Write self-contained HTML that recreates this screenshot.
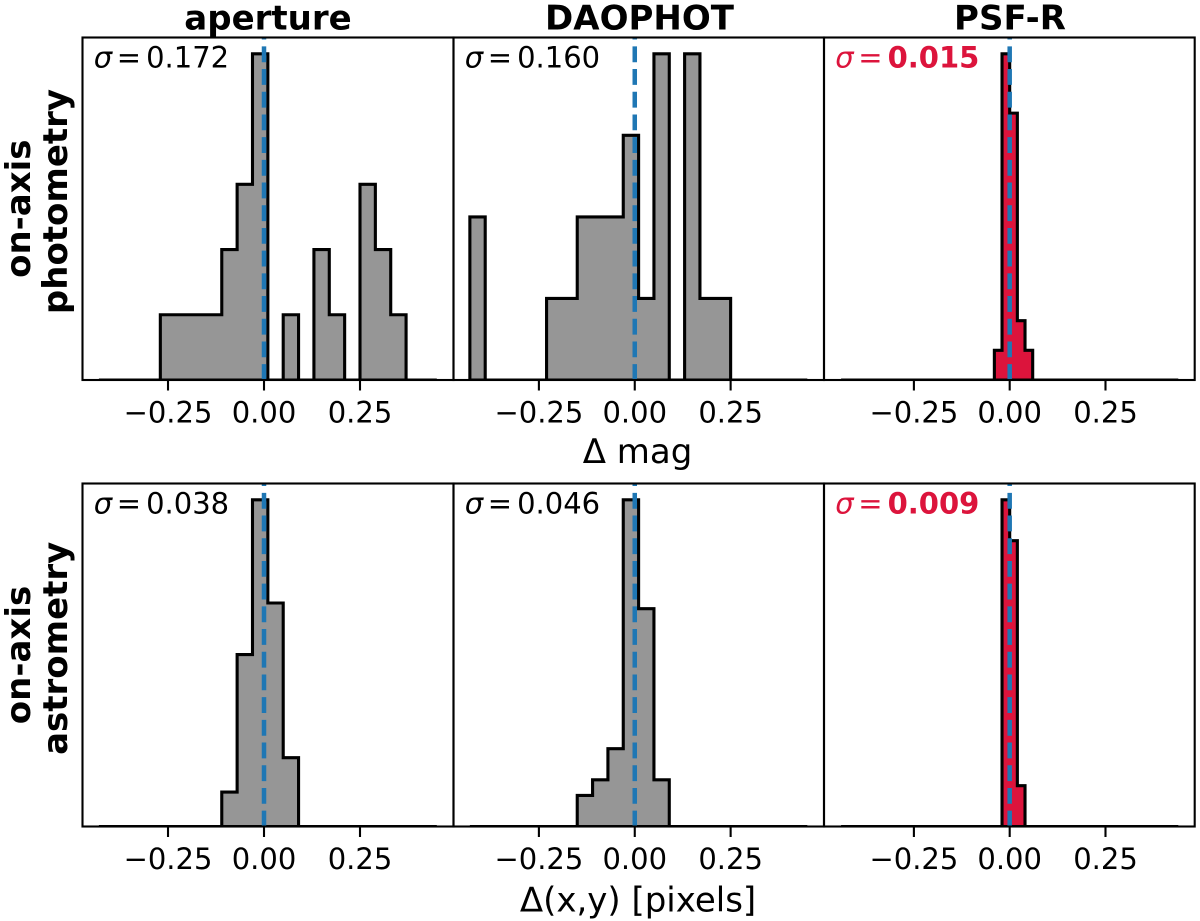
<!DOCTYPE html>
<html lang="en">
<head>
<meta charset="utf-8">
<title>On-axis photometry and astrometry residual histograms</title>
<style>
html,body{margin:0;padding:0;background:#fff;}
body{width:1200px;height:921px;overflow:hidden;}
svg{display:block;font-family:"DejaVu Sans","Liberation Sans",sans-serif;}
</style>
</head>
<body>
<svg id="figure" xmlns="http://www.w3.org/2000/svg" width="1200" height="921" viewBox="0 0 1200 921">
  <rect x="0" y="0" width="1200" height="921" fill="#fff"/>
  <g id="panels"></g>
  <text x="268" y="29.3" font-size="34" font-weight="700" text-anchor="middle">aperture</text>
  <text x="639.5" y="29.3" font-size="34" font-weight="700" text-anchor="middle">DAOPHOT</text>
  <text x="1010" y="29.3" font-size="34" font-weight="700" text-anchor="middle">PSF-R</text>
  <text x="637.5" y="463" font-size="34" text-anchor="middle">Δ mag</text>
  <text x="638" y="911.5" font-size="34" text-anchor="middle">Δ(x,y) [pixels]</text>
  <text transform="translate(30,208.7) rotate(-90)" font-size="34" font-weight="700" text-anchor="middle">on-axis</text>
  <text transform="translate(67,201.5) rotate(-90)" font-size="34" font-weight="700" text-anchor="middle">photometry</text>
  <text transform="translate(30,655) rotate(-90)" font-size="34" font-weight="700" text-anchor="middle">on-axis</text>
  <text transform="translate(67,648.3) rotate(-90)" font-size="34" font-weight="700" text-anchor="middle">astrometry</text>
</svg>
<script>
// Bin counts (one array per panel)
const photApertureCounts = [0,0,0,0,1,1,1,1,2,3,5,0,1,0,2,1,0,3,2,1,0,0];
const photDaophotCounts  = [2,0,0,0,0,1,1,2,2,2,3,1,4,0,4,1,1,0,0,0,0,0];
const photPsfrCounts     = [0,0,0,0,0,0,0,0,0,0,0,0,0,0,0,0,0,0,0,0,1,11,9,2,1,0,0,0,0,0,0,0,0,0,0,0,0,0,0,0,0,0,0,0];
const astrApertureCounts = [0,0,0,0,0,0,0,0,2,10,19,13,4,0,0,0,0,0,0,0,0,0];
const astrDaophotCounts  = [0,0,0,0,0,0,0,2,3,5,21,14,3,0,0,0,0,0,0,0,0,0];
const astrPsfrCounts     = [0,0,0,0,0,0,0,0,0,0,0,0,0,0,0,0,0,0,0,0,0,24,21,3,0,0,0,0,0,0,0,0,0,0,0,0,0,0,0,0,0,0,0,0];

// Bin definitions per column (data units)
const binStarts = [-0.43, -0.43, -0.44];
const binWidths = [0.04, 0.04, 0.02];

// Axis limits per column (data units)
const xLimitsLow  = [-0.4727, -0.4727, -0.4846];
const xLimitsHigh = [0.4935, 0.4935, 0.4828];

// Ticks
const tickValues = [-0.25, 0, 0.25];
const tickLabels = ["\u22120.25", "0.00", "0.25"];

// Printed scatter values
const photSigmas = ["0.172", "0.160", "0.015"];
const astrSigmas = ["0.038", "0.046", "0.009"];

const columnNames = ["aperture", "daophot", "psf-r"];
const rowNames = ["photometry", "astrometry"];

const SVGNS = "http://www.w3.org/2000/svg";
const root = document.getElementById("panels");

function make(tag, attrs, parent) {
  const node = document.createElementNS(SVGNS, tag);
  for (const k in attrs) node.setAttribute(k, attrs[k]);
  parent.appendChild(node);
  return node;
}

const columnEdges = [[82.5, 453.5], [453.5, 824], [824, 1194.7]];
const rowEdges = [[37.5, 380], [483.5, 826.5]];
const rowCounts = [
  [photApertureCounts, photDaophotCounts, photPsfrCounts],
  [astrApertureCounts, astrDaophotCounts, astrPsfrCounts]
];
const rowSigmas = [photSigmas, astrSigmas];

function drawPanel(r, c) {
  const [left, right] = columnEdges[c];
  const [top, bottom] = rowEdges[r];
  const counts = rowCounts[r][c];
  const isRed = c === 2;
  const ink = isRed ? "#dc143c" : "#000";
  const xScale = v => left + (v - xLimitsLow[c]) / (xLimitsHigh[c] - xLimitsLow[c]) * (right - left);
  const yMax = Math.max.apply(null, counts) * 1.05;
  const yScale = v => bottom - v / yMax * (bottom - top);
  const id = rowNames[r] + "-" + columnNames[c];

  const g = make("g", {}, root);
  
  

  const clip = make("clipPath", { id: "clip-" + id }, g);
  make("rect", { x: left, y: top, width: right - left, height: bottom - top }, clip);

  let d = "M" + xScale(binStarts[c]).toFixed(2) + " " + yScale(0).toFixed(2);
  counts.forEach((n, i) => {
    const x0 = xScale(binStarts[c] + i * binWidths[c]);
    const x1 = xScale(binStarts[c] + (i + 1) * binWidths[c]);
    d += "L" + x0.toFixed(2) + " " + yScale(n).toFixed(2) + "L" + x1.toFixed(2) + " " + yScale(n).toFixed(2);
  });
  d += "L" + xScale(binStarts[c] + counts.length * binWidths[c]).toFixed(2) + " " + yScale(0).toFixed(2) + "Z";
  const hist = make("path", {
    d: d,
    fill: isRed ? "#dc143c" : "#969696",
    stroke: "#000",
    "stroke-width": 3.1,
    "stroke-linejoin": "miter",
    "clip-path": "url(#clip-" + id + ")"
  }, g);
  
  

  const zero = make("line", {
    x1: xScale(0), x2: xScale(0), y1: bottom, y2: top,
    stroke: "#1f77b4", "stroke-width": 4.5, "stroke-dasharray": "15.85 6.85"
  }, g);
  
  

  const frame = make("rect", {
    x: left, y: top, width: right - left, height: bottom - top,
    fill: "none", stroke: "#000", "stroke-width": 2.1
  }, g);
  
  

  tickValues.forEach((v, i) => {
    const tick = make("line", {
      x1: xScale(v), x2: xScale(v), y1: bottom, y2: bottom + 10.5,
      stroke: "#000", "stroke-width": 2.1
    }, g);
    
    
    const label = make("text", {
      x: xScale(v), y: bottom + 42.5, "font-size": 29, "text-anchor": "middle", fill: "#000"
    }, g);
    label.textContent = tickLabels[i];
    
    
  });

  const note = make("text", { y: top + 29.9, "font-size": 29, fill: ink }, g);
  
  
  const sym = make("tspan", { x: left + 11.2, "font-style": "italic" }, note);
  sym.textContent = "\u03C3";
  const eq = make("tspan", { x: left + 34.3 }, note);
  eq.textContent = "=";
  const val = make("tspan", { x: left + 63.6, "font-weight": isRed ? 700 : 400 }, note);
  val.textContent = rowSigmas[r][c];
}

for (let r = 0; r < rowNames.length; r++) {
  for (let c = 0; c < columnNames.length; c++) {
    drawPanel(r, c);
  }
}
</script>
</body>
</html>
